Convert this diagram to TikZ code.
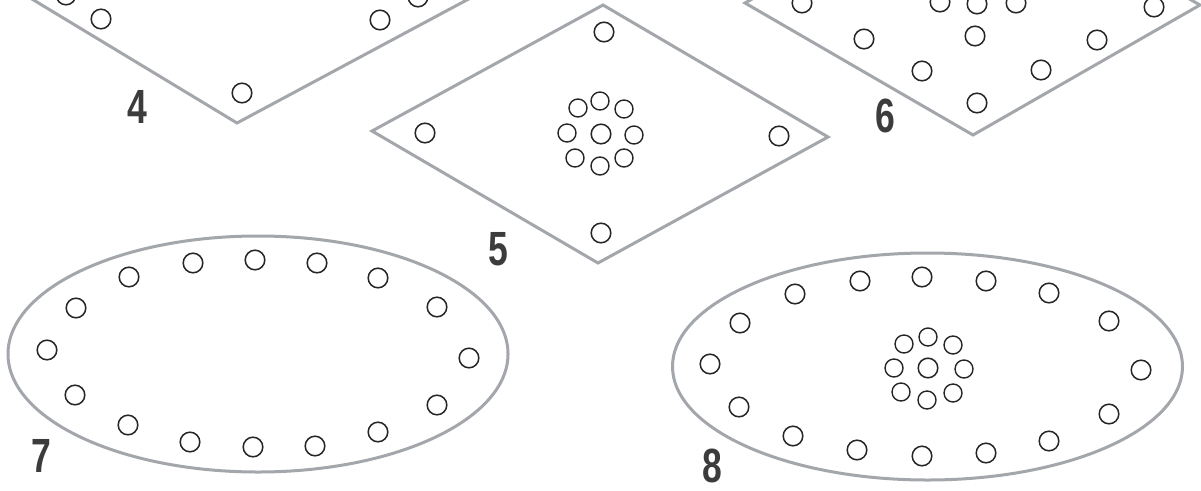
\documentclass[tikz,border=0pt]{standalone}
\usepackage{fontspec}
\setmainfont{Liberation Sans}
\definecolor{outline}{HTML}{A3A7AB}
\definecolor{holeink}{HTML}{262626}
\definecolor{numink}{HTML}{3C3C3C}
\tikzset{
  shapeline/.style={draw=outline, line width=3pt, line join=miter},
  hole/.style={draw=holeink, line width=1.5pt},
  smallhole/.style={draw=holeink, line width=1.4pt},
  num/.style={text=numink, font=\fontsize{48}{48}\selectfont\bfseries, inner sep=0pt, anchor=base}
}
\newcommand{\hl}[2]{\draw[hole] (#1,#2) circle[radius=9.8pt];}
\newcommand{\shl}[2]{\draw[smallhole] (#1,#2) circle[radius=9pt];}
\newcommand{\numtxt}[1]{\scalebox{0.74}[1]{#1}}
\begin{document}
\begin{tikzpicture}[x=1pt,y=-1pt]
\useasboundingbox (0,0) rectangle (1201,490);
\fill[white] (0,0) rectangle (1201,490);
\clip (0,0) rectangle (1201,490);

% ---- diamond 4 (cut at top)
\draw[shapeline] (34-60,-36) -- (237,123) -- (467+67,-36);
\hl{66}{-5} \hl{101}{19} \hl{380}{20} \hl{418}{-3} \hl{242}{93}
\node[num] (n4) at (137,123) {\numtxt{4}};

% ---- diamond 5
\draw[shapeline] (603,5) -- (828,137) -- (598,263) -- (372,131) -- cycle;
\hl{604}{32} \hl{425}{133} \hl{779}{136} \hl{601}{233}
\hl{601}{134}
\shl{600}{101} \shl{578}{108} \shl{624}{109}
\shl{567}{133} \shl{634}{135}
\shl{575}{158} \shl{600}{166} \shl{624}{158}
\node[num] (n5) at (498,265) {\numtxt{5}};

% ---- diamond 6 (cut at top)
\draw[shapeline] (805,-31) -- (745,3) -- (973,135) -- (1200,5) -- (1140,-29);
\hl{802}{3} \hl{864}{39} \hl{922}{71} \hl{977}{103}
\hl{975}{36} \hl{1041}{70} \hl{1097}{40} \hl{1154}{7}
\hl{940}{2} \hl{977}{4} \hl{1016}{3}
\node[num] (n6) at (885,132) {\numtxt{6}};

% ---- ellipse 7
\draw[shapeline] (258,354) ellipse [x radius=250, y radius=118];
\hl{129}{277} \hl{193}{263} \hl{255}{260} \hl{317}{263} \hl{378}{278}
\hl{437}{307} \hl{469}{358} \hl{437}{405} \hl{378}{432} \hl{315}{446}
\hl{253}{447} \hl{190}{442} \hl{128}{425} \hl{75}{395} \hl{47}{350} \hl{76}{308}
\node[num] (n7) at (41,472) {\numtxt{7}};

% ---- ellipse 8
\draw[shapeline] (927.5,366.5) ellipse [x radius=255, y radius=113.5];
\hl{710}{364} \hl{740}{323} \hl{795}{294} \hl{860}{281} \hl{922}{277}
\hl{986}{281} \hl{1049}{293} \hl{1109}{321} \hl{1141}{370} \hl{1109}{414}
\hl{1049}{441} \hl{986}{453} \hl{922}{456} \hl{857}{450} \hl{793}{436} \hl{739}{407}
\hl{928}{368}
\shl{928}{337} \shl{904}{344} \shl{953}{345}
\shl{894}{368} \shl{964}{369}
\shl{901}{392} \shl{927}{400} \shl{953}{393}
\node[num] (n8) at (712,482) {\numtxt{8}};
\end{tikzpicture}
\end{document}
